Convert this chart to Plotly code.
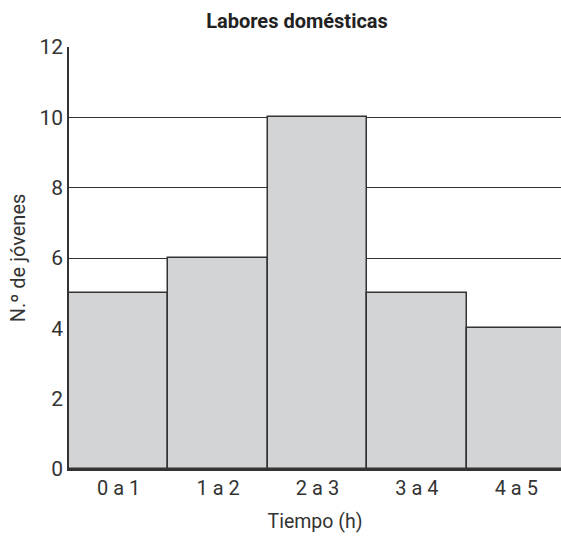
import plotly.graph_objects as go

categories = ["0 a 1", "1 a 2", "2 a 3", "3 a 4", "4 a 5"]
values = [5, 6, 10, 5, 4]
y_ticks = [0, 2, 4, 6, 8, 10, 12]

FONT = "Roboto, sans-serif"

fig = go.Figure(go.Bar(
    x=list(range(len(categories))),
    y=values,
    width=1.0,
    marker=dict(color="#d3d4d6", line=dict(color="#333333", width=1.5)),
))

fig.update_layout(
    width=561, height=536,
    margin=dict(l=69, r=0, t=47, b=67),
    paper_bgcolor="white", plot_bgcolor="white",
    font=dict(family=FONT, size=19, color="#333333"),
    title=dict(text="<b>Labores domésticas</b>", x=297 / 561, xanchor="center",
               y=1 - 21 / 536, yanchor="middle", font=dict(size=20, color="#222222")),
    showlegend=False,
    bargap=0,
)
fig.update_xaxes(
    range=[-0.5, 4.45],
    tickmode="array", tickvals=list(range(len(categories))), ticktext=categories,
    showline=True, linecolor="#333333", linewidth=1.5,
    showgrid=False, ticks="", zeroline=False,
    title=dict(text="Tiempo (h)", standoff=16, font=dict(size=19.5, color="#333333")),
    tickfont=dict(size=20, color="#333333"),
)
fig.update_yaxes(
    range=[0, 12],
    tickmode="array", tickvals=y_ticks,
    showline=True, linecolor="#333333", linewidth=1.5,
    showgrid=True, gridcolor="#333333", gridwidth=1.2,
    zeroline=False, ticks="",
    title=dict(text="N.º de jóvenes", standoff=8, font=dict(size=20, color="#333333")),
    tickfont=dict(size=21, color="#333333"),
)

fig.write_html(
    "out.html",
    config={"displayModeBar": False},
    post_script="document.body.style.margin='0';document.body.style.overflow='hidden';",
)
